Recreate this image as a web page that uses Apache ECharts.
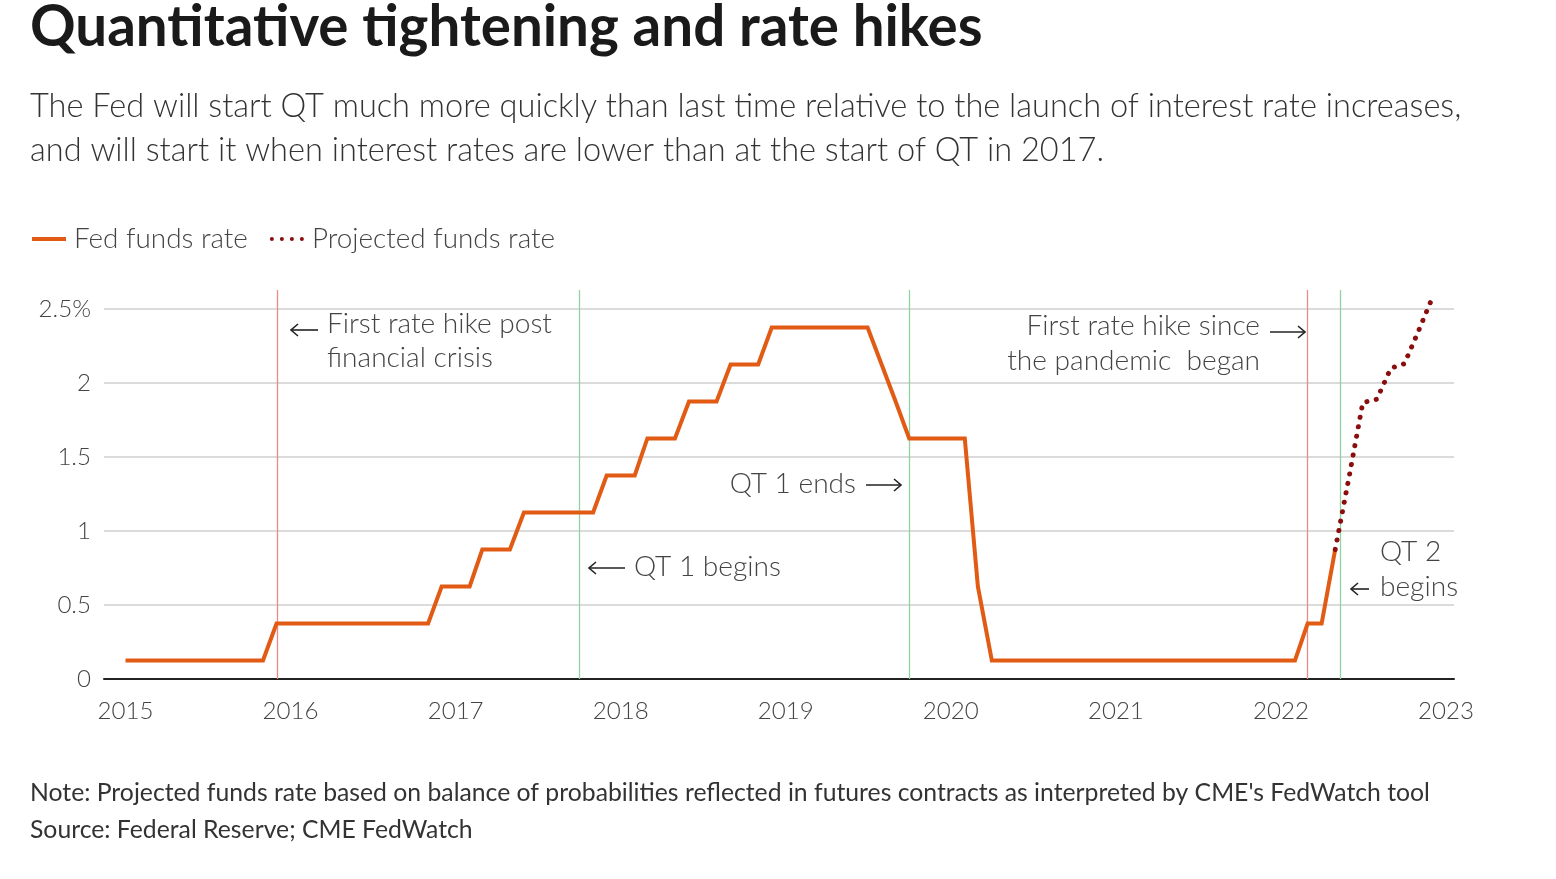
<!DOCTYPE html>
<html><head><meta charset="utf-8">
<script src="https://cdn.jsdelivr.net/npm/echarts@6/dist/echarts.min.js"></script>
<style>html,body{margin:0;padding:0;background:#fff}#c{width:1556px;height:879px}</style>
</head><body><div id="c"></div>
<script>
// ---------- DATA ----------
const fedMonths = ['2015-01','2015-11','2015-12','2016-11','2016-12','2017-02','2017-03','2017-05','2017-06',
  '2017-11','2017-12','2018-02','2018-03','2018-05','2018-06','2018-08','2018-09','2018-11','2018-12',
  '2019-07','2019-08','2019-09','2019-10','2020-02','2020-03','2020-04','2022-02','2022-03','2022-04','2022-05'];
const fedRates = [0.125,0.125,0.375,0.375,0.625,0.625,0.875,0.875,1.125,
  1.125,1.375,1.375,1.625,1.625,1.875,1.875,2.125,2.125,2.375,
  2.375,2.125,1.875,1.625,1.625,0.625,0.125,0.125,0.375,0.375,0.875];
const projMonths = ['2022-05','2022-06','2022-07','2022-08','2022-09','2022-10','2022-11','2022-12'];
const projRates = [0.875,1.37,1.867,1.89,2.10,2.13,2.35,2.57];
const yearTicks = [2015,2016,2017,2018,2019,2020,2021,2022,2023];
const rateTicks = [0,0.5,1,1.5,2,2.5];
const hikeDates = ['2015-12-01','2022-03-01'];
const qtDates = ['2017-10-02','2019-10-02','2022-05-12'];

const TITLE = 'Quantitative tightening and rate hikes';
const SUB1 = 'The Fed will start QT much more quickly than last time relative to the launch of interest rate increases,';
const SUB2 = 'and will start it when interest rates are lower than at the start of QT in 2017.';
const NOTE = "Note: Projected funds rate based on balance of probabilities reflected in futures contracts as interpreted by CME's FedWatch tool";
const SOURCE = 'Source: Federal Reserve; CME FedWatch';
const SER1 = 'Fed funds rate', SER2 = 'Projected funds rate';

// ---------- HELPERS ----------
function toYear(s){
  const p = s.split('-').map(Number);
  const y = p[0], m = p[1], d = p[2] || 1;
  const a = Date.UTC(y,0,1), b = Date.UTC(y+1,0,1);
  return y + (Date.UTC(y,m-1,d) - a) / (b - a);
}
const FONT = 'Lato, "Open Sans", sans-serif';
const ctx = document.createElement('canvas').getContext('2d');
function fit(text, weight, target){
  ctx.font = weight + ' 100px ' + FONT;
  return 100 * target / ctx.measureText(text).width;
}
const titleSize = fit(TITLE, 700, 953);
const subSize = fit(SUB1, 300, 1432);
const legSize = fit(SER1, 300, 174);
const annSize = fit('First rate hike post', 300, 225);
const axSize = fit('2015', 300, 56);
const noteSize = fit(NOTE, 400, 1400);

function txt(text, x, y, size, weight, color, align){
  return {type:'text', x:x, y:y, silent:true, style:{text:text, fill:color, textAlign:align||'left',
    textVerticalAlign:'middle', font: weight + ' ' + size + 'px ' + FONT}};
}
function arrow(x1, x2, y){
  const dir = x2 > x1 ? 1 : -1;
  return [
    {type:'line', silent:true, shape:{x1:x1, y1:y, x2:x2, y2:y}, style:{stroke:'#222', lineWidth:1.6}},
    {type:'polyline', silent:true, shape:{points:[[x2-dir*7,y-6],[x2,y],[x2-dir*7,y+6]]}, style:{stroke:'#222', lineWidth:1.6, fill:null}}
  ];
}

const annColor = '#444';
const graphics = [
  txt(TITLE, 30, 28, titleSize, 700, '#1a1a1a'),
  txt(SUB1, 30, 106, subSize, 300, '#333'),
  txt(SUB2, 30, 150, subSize, 300, '#333'),
  txt(NOTE, 30, 793, noteSize, 400, '#333'),
  txt(SOURCE, 30, 830, noteSize, 400, '#333'),
  txt('First rate hike post', 327, 324, annSize, 300, annColor),
  txt('financial crisis', 327, 358, annSize, 300, annColor),
  txt('QT 1 begins', 634, 567, annSize, 300, annColor),
  txt('QT 1 ends', 856, 484, annSize, 300, annColor, 'right'),
  txt('First rate hike since', 1260, 326, annSize, 300, annColor, 'right'),
  txt('the pandemic  began', 1260, 361, annSize, 300, annColor, 'right'),
  txt('QT 2', 1380, 552, annSize, 300, annColor),
  txt('begins', 1380, 587, annSize, 300, annColor)
].concat(arrow(318, 291, 330), arrow(625, 589, 568), arrow(866, 901, 485), arrow(1270, 1305, 332), arrow(1369, 1351, 589));

const markData = hikeDates.map(d => ({xAxis: toYear(d), lineStyle:{color:'#ec8a8a', width:1.3, type:'solid'}}))
  .concat(qtDates.map(d => ({xAxis: toYear(d), lineStyle:{color:'#8fd4a0', width:1.3, type:'solid'}})));

const dotsIcon = 'path://M0,2a2,2 0 1,0 4,0a2,2 0 1,0 -4,0M10,2a2,2 0 1,0 4,0a2,2 0 1,0 -4,0M20,2a2,2 0 1,0 4,0a2,2 0 1,0 -4,0M30,2a2,2 0 1,0 4,0a2,2 0 1,0 -4,0Z';

const chart = echarts.init(document.getElementById('c'), null, {renderer:'canvas'});
chart.setOption({
  animation:false,
  backgroundColor:'#fff',
  textStyle:{fontFamily:FONT},
  legend:{
    left:27, top:220, itemWidth:34, itemHeight:4, itemGap:22,
    textStyle:{fontSize:legSize, fontWeight:300, color:'#444', fontFamily:FONT, padding:[0,0,0,3]},
    data:[{name:SER1, icon:'rect'}, {name:SER2, icon:dotsIcon}]
  },
  grid:[
    {left:125.5, right:110, top:290, bottom:200},
    {left:104, right:102, top:309, bottom:200}
  ],
  xAxis:[
    {gridIndex:0, type:'value', min:yearTicks[0], max:yearTicks[yearTicks.length-1], interval:1,
      axisLine:{show:false}, axisTick:{show:false}, splitLine:{show:false},
      axisLabel:{margin:20, fontSize:axSize, fontWeight:300, color:'#444', fontFamily:FONT, formatter:v=>String(v)}},
    {gridIndex:1, type:'value', min:0, max:1, axisLine:{show:true, lineStyle:{color:'#222', width:2}},
      axisTick:{show:false}, axisLabel:{show:false}, splitLine:{show:false}}
  ],
  yAxis:[
    {gridIndex:0, type:'value', min:0, max:2.628, show:false, splitLine:{show:false}},
    {gridIndex:1, type:'value', min:rateTicks[0], max:rateTicks[rateTicks.length-1], interval:0.5,
      axisLine:{show:false}, axisTick:{show:false},
      splitLine:{lineStyle:{color:'#cfcfcf', width:1.5}},
      axisLabel:{margin:13, fontSize:axSize, fontWeight:300, color:'#444', fontFamily:FONT,
        formatter:v => v === 2.5 ? '2.5%' : String(v)}}
  ],
  series:[
    {name:SER1, type:'line', xAxisIndex:0, yAxisIndex:0, symbol:'none', z:5,
      data: fedMonths.map((m,i) => [toYear(m), fedRates[i]]),
      lineStyle:{color:'#e15b14', width:4, join:'miter'}, itemStyle:{color:'#e15b14'},
      markLine:{silent:true, symbol:['none','none'], label:{show:false}, data:markData, z:1}},
    {name:SER2, type:'line', xAxisIndex:0, yAxisIndex:0, symbol:'none', z:6,
      data: projMonths.map((m,i) => [toYear(m), projRates[i]]),
      lineStyle:{color:'#8a0e0e', width:5, type:[0.1, 9.5], cap:'round'}, itemStyle:{color:'#8a0e0e'}}
  ],
  graphic: graphics
});
</script></body></html>
